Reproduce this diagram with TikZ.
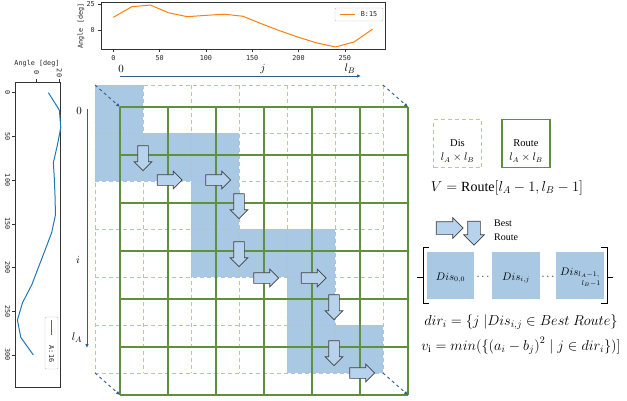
\documentclass[tikz,border=0pt]{standalone}
\usepackage{fontspec}
\setmainfont{Liberation Serif}
\newfontfamily\plotfont{DejaVu Sans Mono}
\usetikzlibrary{arrows.meta,shapes.arrows}
\definecolor{routegreen}{HTML}{5E9040}
\definecolor{disgreen}{HTML}{AED47E}
\definecolor{cellblue}{HTML}{A9C8E4}
\definecolor{axblue}{HTML}{2F5E8C}
\definecolor{arrblue}{HTML}{B7D2EC}
\definecolor{mplorange}{HTML}{FF7F0E}
\definecolor{mplblue}{HTML}{1F77B4}

\begin{document}
\begin{tikzpicture}[x=1pt, y=-1pt, every node/.style={inner sep=0pt},
  dis/.style={draw=disgreen, dash pattern=on 4pt off 3pt, line width=0.9pt},
  route/.style={draw=routegreen, line width=1.2pt},
  ax/.style={draw=axblue, line width=1pt, -{Latex[length=4pt,width=3.5pt]}},
  corner/.style={draw=axblue, dashed, line width=0.9pt, -{Latex[length=4pt,width=3.5pt]}},
  blk/.style={single arrow, draw=black!75, fill=arrblue, line width=0.7pt, minimum height=25pt,
    inner xsep=0pt, inner ysep=5pt, single arrow head extend=3.5pt},
  lbl/.style={font=\fontsize{11}{11}\selectfont},
  tk/.style={font=\plotfont\fontsize{6.8}{6.8}\selectfont, text=black!85},
  frm/.style={draw=black!80, line width=0.6pt}]

\useasboundingbox (0,0) rectangle (627,400);

% top plot, sequence B
\draw[frm] (101,2) rectangle (385,49.3);
\foreach \t in {0,50,...,250} {
  \draw[frm] (113.3+0.926*\t,49.3) -- ++(0,3);
  \node[tk] (bx\t) at (113.3+0.926*\t,57.7) {\t};
}
\foreach \v in {0,25} {
  \draw[frm] (101,30-1.04*\v) -- ++(-3,0);
  \node[tk, anchor=east] (by\v) at (95,30-1.04*\v) {\v};
}
\node[tk, rotate=90] (bylab) at (81,26) {Angle [deg]};
\begin{scope}[shift={(113.3,30)}, x=0.926pt, y=1.04pt]
  \draw[mplorange, line width=1pt] (0,12.2) -- (20,22.4) -- (40,24) -- (60,16.5) -- (80,12.8)
    -- (100,14.1) -- (120,15.2) -- (140,13.2) -- (160,6) -- (180,-0.8) -- (200,-7)
    -- (220,-12.5) -- (240,-16.3) -- (260,-11.5) -- (280,0.8);
\end{scope}
\draw[draw=black!25, rounded corners=1pt, fill=white] (335,8) rectangle (383,21);
\draw[mplorange, line width=1pt] (340,14.5) -- (355,14.5);
\node[tk] (bleg) at (369,14.5) {B:15};

% left plot, sequence A
\draw[frm] (15,82) rectangle (60,387);
\foreach \t in {0,50,...,300} {
  \draw[frm] (15,92.7+0.874*\t) -- ++(-3,0);
  \node[tk, rotate=-90] (ay\t) at (7.5,92.7+0.874*\t) {\t};
}
\foreach \v in {0,20} {
  \draw[frm] (36.7+1.135*\v,82) -- ++(0,-3);
  \node[tk, rotate=-90] (ax\v) at (36.7+1.135*\v,73) {\v};
}
\node[tk] (axlab) at (37,64) {Angle [deg]};
\begin{scope}[shift={(36.7,92.7)}, x=1.135pt, y=-0.874pt]
  \draw[mplblue, line width=1pt] (10.3,0) -- (20,20) -- (21.2,40) -- (18.2,60) -- (14.7,80)
    -- (15.6,100) -- (16.2,120) -- (16.5,140) -- (13.2,160) -- (7.4,180) -- (1.5,200)
    -- (-4.4,220) -- (-12.4,240) -- (-17,260) -- (-14,280) -- (-3,300);
\end{scope}
\draw[draw=black!25, rounded corners=1pt, fill=white] (45,317) rectangle (58,369);
\draw[mplblue, line width=1pt] (51.5,320) -- (51.5,335);
\node[tk, rotate=-90] (aleg) at (51.5,354) {A:16};

% Dis and Route grids
\foreach \r/\c in {0/0,1/0,1/1,1/2,2/2,3/2,3/3,3/4,4/4,5/4,5/5}
  \fill[cellblue] (95+48*\c,85+48*\r) rectangle ++(48,48);
\foreach \k in {0,...,6} {
  \draw[dis] (95+48*\k,85) -- (95+48*\k,373);
  \draw[dis] (95,85+48*\k) -- (383,85+48*\k);
}
\foreach \k in {0,...,6} {
  \draw[route] (120+48*\k,107) -- (120+48*\k,395);
  \draw[route] (120,107+48*\k) -- (408,107+48*\k);
}
\foreach \n/\a/\b/\c/\d in {1/95/85/120/107, 2/383/85/408/107, 3/95/373/120/395, 4/383/373/408/395} {
  \coordinate (d\n) at (\a,\b);
  \coordinate (r\n) at (\c,\d);
  \draw[corner] (d\n) -- (r\n);
}

% best route steps
\foreach \x/\y [count=\n] in {143/155.5, 239/203.5, 239/251.5, 334/304.5, 334/350.5}
  \node[blk, rotate=-90] (dn\n) at (\x,\y) {};
\foreach \x/\y [count=\n] in {167/180, 215.5/180, 263.5/278, 311/278, 359.5/373}
  \node[blk] (rt\n) at (\x,\y) {};

% axes i and j
\coordinate (i0) at (87,109);
\coordinate (i1) at (87,348);
\draw[ax] (i0) -- (i1);
\node[lbl] (il0) at (79,111) {$0$};
\node[lbl] (ili) at (78,260) {$i$};
\node[lbl] (ila) at (77,338) {$l_A$};
\coordinate (j0) at (120,76);
\coordinate (j1) at (361,76);
\draw[ax] (j0) -- (j1);
\node[lbl] (jl0) at (121,69) {$0$};
\node[lbl] (jlj) at (263,69) {$j$};
\node[lbl] (jlb) at (350,69) {$l_B$};

% legend and formulas
\node[dis, minimum size=48pt] (disbox) at (457.5,143.5) {};
\node[align=center, font=\fontsize{10.5}{14}\selectfont] (distxt) at (457.5,151) {Dis\\$l_A\times l_B$};
\node[route, minimum size=48pt] (routebox) at (526,143.5) {};
\node[align=center, font=\fontsize{10.5}{14}\selectfont] (routetxt) at (526,151) {Route\\$l_A\times l_B$};
\node[font=\fontsize{14}{14}\selectfont] (vform) at (507,188) {$V=\mathrm{Route}[l_A-1,l_B-1]$};
\node[blk, minimum height=27pt, inner ysep=6pt, single arrow head extend=4pt] (lgr) at (446.5,228) {};
\node[blk, rotate=-90, minimum height=24pt, inner ysep=6pt, single arrow head extend=4pt] (lgd) at (474,230) {};
\node[anchor=west, align=left, font=\fontsize{10}{14}\selectfont] (best) at (494,230) {Best\\Route};

\draw[line width=0.9pt] (429,247) -- (423,247) -- (423,303) -- (429,303);
\draw[line width=0.9pt] (417,277.5) -- (423,277.5);
\draw[line width=0.9pt] (601,247) -- (607,247) -- (607,303) -- (601,303);
\draw[line width=0.9pt] (607,277.5) -- (613,277.5);
\node[fill=cellblue, minimum size=47.5pt] (m1) at (450.5,275.5) {};
\node[fill=cellblue, minimum size=47.5pt] (m2) at (516,275.5) {};
\node[fill=cellblue, minimum size=47.5pt] (m3) at (580,275.5) {};
\node[font=\fontsize{10.5}{10}\selectfont] (m1t) at (450.5,278) {$Dis_{0,0}$};
\node[font=\fontsize{10.5}{10}\selectfont] (m2t) at (516,278) {$Dis_{i,j}$};
\node[font=\fontsize{10.5}{10}\selectfont] (m3t) at (580,273) {$Dis_{l_A-1,}$};
\node[font=\fontsize{10.5}{10}\selectfont] (m3u) at (591,284) {$\scriptstyle l_B-1$};
\node[font=\fontsize{10.5}{10}\selectfont] (dt1) at (483,277) {$\cdots$};
\node[font=\fontsize{10.5}{10}\selectfont] (dt2) at (548,277) {$\cdots$};

\node[font=\fontsize{14.5}{14}\selectfont] (dirf) at (521,322) {$dir_i=\{j\ |Dis_{i,j}\in Best\ Route\}$};
\node[font=\fontsize{14.5}{14}\selectfont] (vf) at (521,346) {$v_\mathrm{i}=min(\bigl\{\bigl(a_i-b_j\bigr)^2\bigm| j\in dir_i\}\bigr)]$};
\end{tikzpicture}
\end{document}
